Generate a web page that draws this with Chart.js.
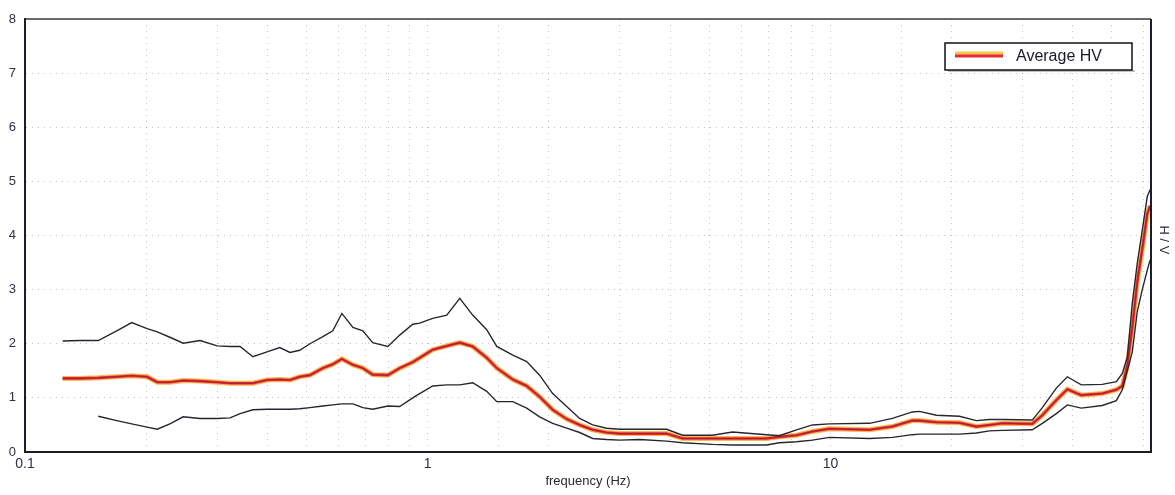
<!DOCTYPE html>
<html>
<head>
<meta charset="utf-8">
<script src="https://cdn.jsdelivr.net/npm/chart.js@4.4.1/dist/chart.umd.min.js"></script>
<style>
  html, body { margin: 0; padding: 0; background: #ffffff; }
  #wrap { width: 1175px; height: 495px; }
</style>
</head>
<body>
<div id="wrap"><canvas id="c" width="1175" height="495"></canvas></div>
<script>
// ---- data (frequency in Hz, H/V ratio) ----
const frequency = [0.124, 0.137, 0.152, 0.169, 0.184, 0.201, 0.213, 0.229, 0.247, 0.272,
  0.300, 0.323, 0.342, 0.368, 0.399, 0.429, 0.455, 0.481, 0.510, 0.549,
  0.581, 0.612, 0.652, 0.690, 0.730, 0.796, 0.852, 0.918, 0.955, 1.029,
  1.115, 1.201, 1.293, 1.401, 1.484, 1.626, 1.761, 1.896, 2.043, 2.213,
  2.384, 2.568, 2.781, 2.996, 3.358, 3.918, 4.294, 5.095, 5.712, 6.938,
  7.470, 8.235, 9.024, 9.94, 12.50, 14.25, 15.97, 16.63, 18.32, 20.90,
  23.03, 24.81, 26.72, 31.71, 33.58, 36.38, 38.74, 41.96, 47.31, 51.26,
  53.05, 54.58, 56.16, 57.79, 59.46, 61.18, 62.2];

const upperHV = [2.05, 2.06, 2.06, 2.24, 2.39, 2.28, 2.22, 2.12, 2.01, 2.06,
  1.96, 1.95, 1.95, 1.76, 1.85, 1.93, 1.84, 1.88, 2.00, 2.13,
  2.24, 2.56, 2.30, 2.24, 2.02, 1.95, 2.16, 2.36, 2.38, 2.47,
  2.53, 2.84, 2.53, 2.26, 1.95, 1.79, 1.67, 1.42, 1.08, 0.84,
  0.62, 0.50, 0.44, 0.42, 0.42, 0.42, 0.31, 0.31, 0.37, 0.32,
  0.30, 0.41, 0.50, 0.52, 0.53, 0.62, 0.74, 0.75, 0.68, 0.66,
  0.58, 0.60, 0.60, 0.59, 0.82, 1.18, 1.39, 1.24, 1.25, 1.30,
  1.45, 1.75, 2.75, 3.49, 4.10, 4.72, 4.85];

const averageHV = [1.36, 1.36, 1.37, 1.39, 1.41, 1.39, 1.29, 1.29, 1.32, 1.31,
  1.29, 1.27, 1.27, 1.27, 1.33, 1.34, 1.33, 1.39, 1.42, 1.55,
  1.62, 1.72, 1.61, 1.55, 1.43, 1.42, 1.55, 1.66, 1.74, 1.89,
  1.96, 2.02, 1.95, 1.74, 1.55, 1.34, 1.22, 1.02, 0.78, 0.61,
  0.50, 0.41, 0.36, 0.34, 0.34, 0.34, 0.25, 0.25, 0.25, 0.25,
  0.28, 0.31, 0.38, 0.43, 0.41, 0.47, 0.58, 0.58, 0.55, 0.54,
  0.47, 0.50, 0.53, 0.52, 0.68, 0.96, 1.16, 1.05, 1.08, 1.15,
  1.22, 1.60, 2.30, 3.15, 3.75, 4.40, 4.55];

const lowerHV = [null, null, 0.66, 0.58, 0.52, 0.46, 0.42, 0.52, 0.65, 0.62,
  0.62, 0.63, 0.71, 0.78, 0.79, 0.79, 0.79, 0.80, 0.82, 0.85,
  0.87, 0.89, 0.89, 0.82, 0.79, 0.85, 0.84, 1.00, 1.08, 1.22,
  1.24, 1.24, 1.28, 1.12, 0.93, 0.93, 0.81, 0.65, 0.53, 0.44,
  0.36, 0.25, 0.23, 0.22, 0.23, 0.20, 0.17, 0.14, 0.13, 0.13,
  0.17, 0.19, 0.22, 0.27, 0.25, 0.27, 0.32, 0.33, 0.33, 0.33,
  0.35, 0.39, 0.40, 0.41, 0.53, 0.71, 0.87, 0.81, 0.86, 0.95,
  1.15, 1.50, 1.85, 2.60, 3.00, 3.36, 3.55];

const xTickLabels = [0.1, 1, 10];
const yTickValues = [0, 1, 2, 3, 4, 5, 6, 7, 8];
const seriesName = 'Average HV';
const xTitle = 'frequency (Hz)';
const yTitle = 'H / V';

const pts = arr => frequency.map((f, i) => ({ x: f, y: arr[i] }));

const frame = {
  id: 'frame',
  afterDatasetsDraw(chart) {
    const { ctx, chartArea: a } = chart;
    ctx.save();
    ctx.strokeStyle = '#3a3a3a';
    ctx.lineWidth = 1.5;
    ctx.beginPath();
    ctx.moveTo(a.left, a.top); ctx.lineTo(a.right, a.top);
    ctx.stroke();
    ctx.strokeStyle = '#1c1c2a';
    ctx.lineWidth = 2;
    ctx.beginPath();
    ctx.moveTo(a.right, a.top); ctx.lineTo(a.right, a.bottom);
    ctx.moveTo(a.left, a.top); ctx.lineTo(a.left, a.bottom); ctx.lineTo(a.right, a.bottom);
    ctx.stroke();

    // legend box
    const lx = 945, ly = 43, lw = 187, lh = 27;
    ctx.fillStyle = 'rgba(120,120,120,0.45)';
    ctx.fillRect(lx + 3, ly + lh, lw, 2);
    ctx.fillStyle = '#ffffff';
    ctx.fillRect(lx, ly, lw, lh);
    ctx.strokeStyle = '#111';
    ctx.lineWidth = 1.5;
    ctx.strokeRect(lx, ly, lw, lh);
    ctx.lineCap = 'butt';
    ctx.strokeStyle = '#f2c94c';
    ctx.lineWidth = 5;
    ctx.beginPath(); ctx.moveTo(955, 54); ctx.lineTo(1003, 54); ctx.stroke();
    ctx.strokeStyle = '#e8283c';
    ctx.lineWidth = 3;
    ctx.beginPath(); ctx.moveTo(955, 56); ctx.lineTo(1003, 56); ctx.stroke();
    ctx.fillStyle = '#1a1a2a';
    ctx.font = '16px "Liberation Sans", Arial, sans-serif';
    ctx.textBaseline = 'middle';
    ctx.textAlign = 'left';
    ctx.fillText(seriesName, 1016, 57);

    // right side axis title
    ctx.save();
    ctx.translate(1164, 240);
    ctx.rotate(Math.PI / 2);
    ctx.textAlign = 'center';
    ctx.font = '13px "Liberation Sans", Arial, sans-serif';
    ctx.fillStyle = '#2a2a3a';
    ctx.fillText(yTitle, 0, 0);
    ctx.restore();
    ctx.restore();
  }
};

new Chart(document.getElementById('c'), {
  type: 'line',
  data: {
    datasets: [
      { label: 'upper', order: 0, data: pts(upperHV), borderColor: '#26262e', borderWidth: 1.4, pointRadius: 0, tension: 0, fill: false },
      { label: 'lower', order: 0, data: pts(lowerHV), borderColor: '#26262e', borderWidth: 1.4, pointRadius: 0, tension: 0, fill: false, spanGaps: false },
      { label: 'core', order: 1, data: pts(averageHV), borderColor: 'rgba(40,20,20,0.45)', borderWidth: 0.8, pointRadius: 0, tension: 0, fill: false },
      { label: seriesName, order: 2, data: pts(averageHV), borderColor: '#e8283c', borderWidth: 2.6, pointRadius: 0, tension: 0, fill: false },
      { label: 'glow', order: 3, data: pts(averageHV), borderColor: 'rgba(246,180,70,0.95)', borderWidth: 5, pointRadius: 0, tension: 0, fill: false }
    ]
  },
  options: {
    responsive: false,
    animation: false,
    layout: { padding: { top: 19, right: 24, left: 0, bottom: 0 } },
    plugins: { legend: { display: false }, tooltip: { enabled: false } },
    scales: {
      x: {
        type: 'logarithmic',
        min: 0.1,
        max: 62.5,
        afterFit: s => { s.height = 43; },
        grid: { color: 'rgba(110,110,110,0.4)', lineWidth: 1, drawTicks: false },
        border: { display: true, color: '#1c1c2a', width: 2, dash: [1, 5] },
        ticks: {
          autoSkip: false, maxRotation: 0, padding: 4,
          color: '#2e2e46',
          font: { family: '"Liberation Sans", Arial, sans-serif', size: 14 },
          callback: v => (xTickLabels.includes(Number(v)) ? String(v) : '')
        },
        title: { display: true, text: xTitle, color: '#2a2a3a',
          font: { family: '"Liberation Sans", Arial, sans-serif', size: 13 }, padding: { top: 0, bottom: 6 } }
      },
      y: {
        min: 0, max: 8,
        afterFit: s => { s.width = 25; },
        afterBuildTicks: s => { s.ticks = yTickValues.map(v => ({ value: v })); },
        grid: { color: 'rgba(110,110,110,0.4)', lineWidth: 1, drawTicks: false },
        border: { display: true, color: '#1c1c2a', width: 2, dash: [1, 5] },
        ticks: {
          padding: 9, color: '#2e2e46',
          font: { family: '"Liberation Sans", Arial, sans-serif', size: 13 }
        }
      }
    }
  },
  plugins: [frame]
});
</script>
</body>
</html>
